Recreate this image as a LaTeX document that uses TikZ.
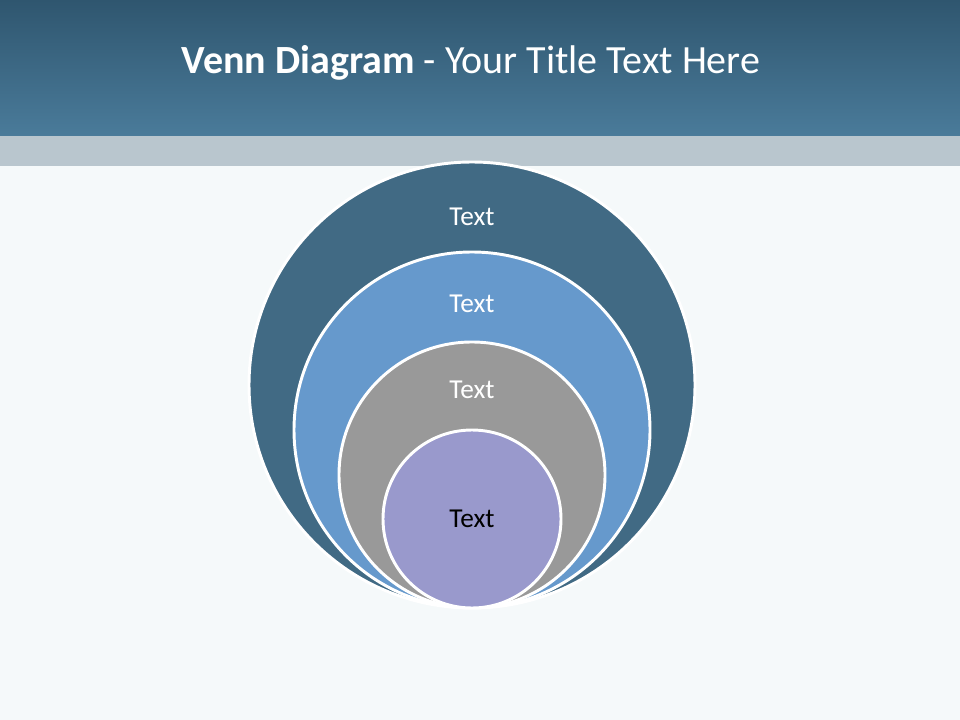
\documentclass[tikz,border=0pt]{standalone}
\usepackage{fontspec}
\setmainfont{Carlito}
\definecolor{hdrtop}{HTML}{2F566F}
\definecolor{hdrbot}{HTML}{4A7B9A}
\definecolor{band}{HTML}{B9C6CE}
\definecolor{bg}{HTML}{F5F9FA}
\definecolor{ringA}{HTML}{416A84}
\definecolor{ringB}{HTML}{6699CC}
\definecolor{ringC}{HTML}{999999}
\definecolor{ringD}{HTML}{9999CC}
\begin{document}
\begin{tikzpicture}[x=0.75pt,y=-0.75pt,
  ring/.style={circle, draw=white, line width=2.2pt, inner sep=0pt},
  lbl/.style={font=\fontsize{20.5}{24}\selectfont, text=white, inner sep=0pt}]
\useasboundingbox (0,0) rectangle (960,720);
\fill[bg] (0,0) rectangle (960,720);
\shade[top color=hdrtop, bottom color=hdrbot] (0,0) rectangle (960,136);
\fill[band] (0,136) rectangle (960,166);
\node[text=white, font=\fontsize{30}{36}\selectfont, inner sep=0pt] (title) at (471,63) {\textbf{Venn Diagram} - Your Title Text Here};
\node[ring, fill=ringA, minimum size=334.5pt] (c1) at (472,385) {};
\node[ring, fill=ringB, minimum size=267pt] (c2) at (472,430) {};
\node[ring, fill=ringC, minimum size=199.5pt] (c3) at (472,475) {};
\node[ring, fill=ringD, minimum size=133.5pt] (c4) at (472,519) {};
\node[lbl] (t1) at (472,217) {Text};
\node[lbl] (t2) at (472,304) {Text};
\node[lbl] (t3) at (472,390) {Text};
\node[lbl, text=black] (t4) at (472,519) {Text};
\end{tikzpicture}
\end{document}
